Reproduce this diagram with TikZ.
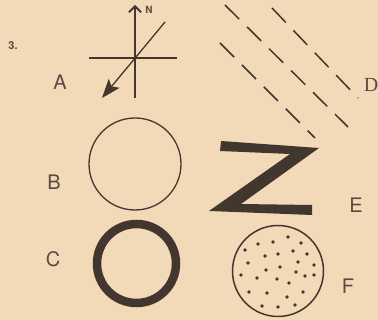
\documentclass[tikz,border=0pt]{standalone}
\usepackage{fontspec}
\setsansfont{TeX Gyre Heros}
\setmainfont{Liberation Serif}
\usepackage{tikz}
\usetikzlibrary{arrows.meta,calc}
\definecolor{paper}{RGB}{242,217,183}
\definecolor{ink}{RGB}{66,55,46}
\definecolor{txt}{RGB}{88,76,64}
\tikzset{
  lbl/.style={text=txt,font=\sffamily\fontsize{20}{20}\selectfont,inner sep=0pt},
  thinring/.style={draw=ink,line width=1.3pt},
  dashline/.style={draw=ink,line width=1.5pt,dash pattern=on 20pt off 11pt}
}

\begin{document}
\begin{tikzpicture}[x=1pt,y=-1pt]
  \fill[paper] (0,0) rectangle (378,320);
  \useasboundingbox (0,0) rectangle (378,320);
  \node[text=txt,font=\sffamily\bfseries\fontsize{11}{11}\selectfont,inner sep=0pt] (num) at (13,46) {3.};
  % compass
  \coordinate (S) at (135,98);
  \coordinate (Nt) at (135,5);
  \coordinate (W) at (89,58);
  \coordinate (Ea) at (177,58);
  \coordinate (NE) at (165,22);
  \coordinate (SW) at (102,98);
  \draw[ink,line width=1.3pt,-{Straight Barb[length=6pt,width=12pt,line width=1.8pt]}] (S)--(Nt);
  \draw[ink,line width=1.3pt] (W)--(Ea);
  \draw[ink,line width=1.3pt,-{Stealth[length=19pt,width=14pt,inset=4pt]}] (NE)--(SW);
  \node[text=txt,font=\sffamily\bfseries\fontsize{10}{10}\selectfont,inner sep=0pt] (nlab) at (149,10) {N};
  \node[lbl] (la) at (60,82) {A};
  % parallel dashes
  \draw[dashline] (225,5)--(348,127);
  \draw[dashline] (272,8)--(358,98);
  \draw[dashline] (220,43)--(315,138);
  \node[text=txt,font=\fontsize{20}{20}\selectfont,inner sep=0pt] (ld) at (371,85) {D};
  % circles
  \draw[thinring] (135,164) circle (46);
  \node[lbl] (lb) at (54,182) {B};
  \draw[ink,line width=8.5pt] (136.5,263.5) circle (39.5);
  \node[lbl] (lc) at (53,259) {C};
  % zigzag
  \fill[ink] (221,141)--(319,148)--(241,204)--(312,205)--(312,215)--(209,211)--(290,154)--(220,151)--cycle;
  \node[lbl] (le) at (356,205) {E};
  % dotted disc
  \draw[ink,line width=1.5pt] (278,271) circle (45.5);
  \foreach \px/\py in {288/237,258/244,273/242,301/243,245/250,293/251,278/254,265/256,
    307/254,248/263,298/262,314/265,280/267,266/270,296/272,241/275,257/278,277/279,
    305/276,314/275,289/283,249/292,267/293,287/297,303/292,262/306,278/307,295/305}
    \fill[ink] (\px,\py) circle (1.8);
  \node[lbl] (lf) at (348,286) {F};
\end{tikzpicture}
\end{document}
